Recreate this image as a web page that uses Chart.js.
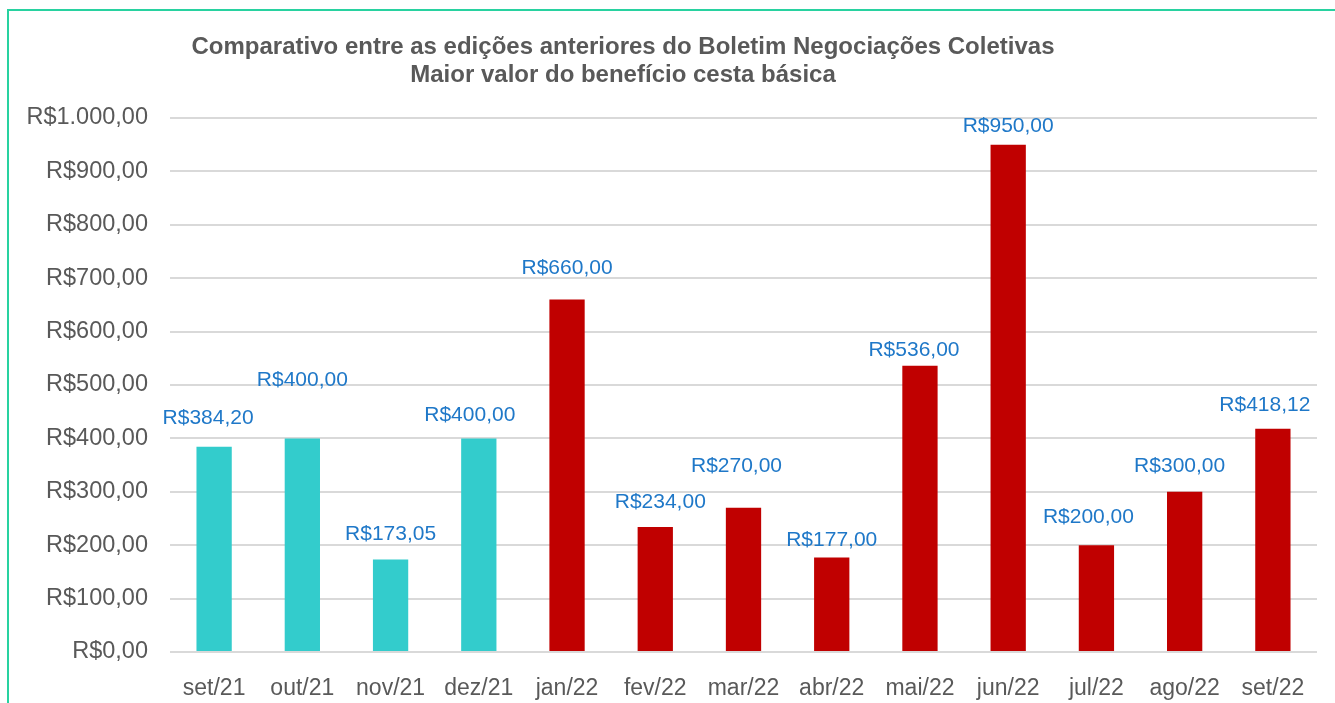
<!DOCTYPE html>
<html>
<head>
<meta charset="utf-8">
<script src="https://cdn.jsdelivr.net/npm/chart.js@4"></script>
<style>
  html, body { margin: 0; padding: 0; background: #fff; }
  #wrap { position: relative; width: 1335px; height: 703px; overflow: hidden; }
  #frame { position: absolute; left: 7px; top: 9px; width: 1340px; height: 710px; border: 2px solid #28D2A0; box-sizing: border-box; }
  #chart { position: absolute; left: 0; top: 0; }
</style>
</head>
<body>
<div id="wrap">
  <div id="frame"></div>
  <canvas id="chart" width="1335" height="703"></canvas>
</div>
<script>
const months = ["set/21", "out/21", "nov/21", "dez/21", "jan/22", "fev/22", "mar/22", "abr/22", "mai/22", "jun/22", "jul/22", "ago/22", "set/22"];
const cestaValues = [384.20, 400.00, 173.05, 400.00, 660.00, 234.00, 270.00, 177.00, 536.00, 950.00, 200.00, 300.00, 418.12];
const titleLines = ["Comparativo entre as edições anteriores do Boletim Negociações Coletivas", "Maior valor do benefício cesta básica"];
// label lift above each bar top, and sideways nudge (Excel moved some of them)
const labelLift = [29, 58, 25, 23, 31, 25, 42, 17, 16, 18, 28, 26, 24];
const labelShift = [-6, 0, 0, -9, 0, 5, -7, 0, -6, 0, -8, -5, -8];

const FONT = "'Liberation Sans', Arial, sans-serif";

function brl(v) {
    var parts = v.toFixed(2).split(".");
    var int = parts[0].replace(/\B(?=(\d{3})+(?!\d))/g, ".");
    return "R$" + int + "," + parts[1];
}

// 2021 months teal, 2022 months red
var barColors = months.map(m => m.endsWith("/21") ? "#33CCCC" : "#C00000");

const titlePlugin = {
    id: "titleLines",
    afterDraw(chart) {
        var ctx = chart.ctx;
        ctx.save();
        ctx.fillStyle = "#595959";
        ctx.font = "bold 24px " + FONT;
        ctx.textAlign = "center";
        ctx.textBaseline = "middle";
        ctx.fillText(titleLines[0], 623, 47);
        ctx.fillText(titleLines[1], 623, 75);
        ctx.restore();
    }
};

const valueLabels = {
    id: "valueLabels",
    afterDatasetsDraw(chart) {
        var ctx = chart.ctx;
        var meta = chart.getDatasetMeta(0);
        ctx.save();
        ctx.fillStyle = "#1F78C8";
        ctx.font = "21px " + FONT;
        ctx.textAlign = "center";
        ctx.textBaseline = "middle";
        meta.data.forEach((bar, i) => {
            ctx.fillText(brl(cestaValues[i]), bar.x + labelShift[i], bar.y - labelLift[i]);
        });
        ctx.restore();
    }
};

new Chart(document.getElementById("chart"), {
    type: "bar",
    data: {
        labels: months,
        datasets: [{
            data: cestaValues,
            backgroundColor: barColors,
            barPercentage: 0.4,
            categoryPercentage: 1.0
        }]
    },
    options: {
        responsive: false,
        animation: false,
        layout: { padding: { top: 118, right: 18, left: 0, bottom: 0 } },
        plugins: {
            legend: { display: false },
            tooltip: { enabled: false },
            title: { display: false }
        },
        scales: {
            x: {
                grid: { display: false },
                border: { display: false },
                ticks: { color: "#595959", font: { family: FONT, size: 23 }, padding: 15, maxRotation: 0 },
                afterFit(scale) { scale.height = 51; }
            },
            y: {
                min: 0,
                max: 1000,
                grid: { color: "#D9D9D9", lineWidth: 2, drawTicks: false },
                border: { display: false },
                ticks: {
                    stepSize: 100,
                    color: "#595959",
                    font: { family: FONT, size: 23.5 },
                    padding: 22,
                    callback: v => brl(v)
                },
                afterFit(scale) { scale.width = 170; }
            }
        }
    },
    plugins: [titlePlugin, valueLabels]
});
</script>
</body>
</html>
